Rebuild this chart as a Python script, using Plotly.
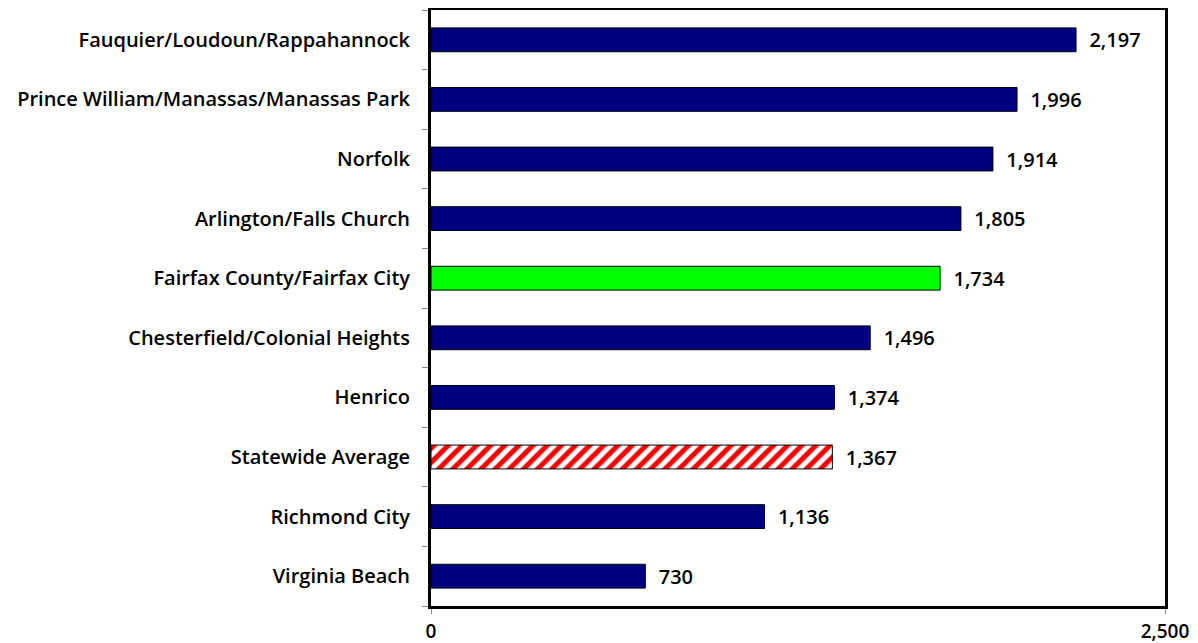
import plotly.graph_objects as go

categories = [
    "Fauquier/Loudoun/Rappahannock",
    "Prince William/Manassas/Manassas Park",
    "Norfolk",
    "Arlington/Falls Church",
    "Fairfax County/Fairfax City",
    "Chesterfield/Colonial Heights",
    "Henrico",
    "Statewide Average",
    "Richmond City",
    "Virginia Beach",
]
values = [2197, 1996, 1914, 1805, 1734, 1496, 1374, 1367, 1136, 730]
highlight = "Fairfax County/Fairfax City"
average = "Statewide Average"
x_ticks = [0, 2500]
x_tick_labels = ["0", "2,500"]

FONT = "Open Sans"
LABEL_FONT = dict(family=FONT, size=20, color="black", weight=600)
VALUE_FONT = dict(family=FONT, size=20, color="black", weight=600)
AXIS_FONT = dict(family=FONT, size=19, color="black", weight=600)

solid_y, solid_x, solid_c = [], [], []
avg_y, avg_x = [], []
for c, v in zip(categories, values):
    if c == average:
        avg_y.append(c)
        avg_x.append(v)
    else:
        solid_y.append(c)
        solid_x.append(v)
        solid_c.append("#00ff00" if c == highlight else "#000080")


def labels(xs):
    # non-breaking spaces keep a gap between bar end and value
    return ["\u00a0\u00a0" + f"{v:,}" for v in xs]


fig = go.Figure()
fig.add_trace(go.Bar(
    y=solid_y,
    x=solid_x,
    orientation="h",
    width=0.4,
    marker=dict(color=solid_c, line=dict(color="black", width=1)),
    text=labels(solid_x),
    textposition="outside",
    textfont=VALUE_FONT,
    constraintext="none",
    cliponaxis=False,
))
fig.add_trace(go.Bar(
    y=avg_y,
    x=avg_x,
    orientation="h",
    width=0.4,
    marker=dict(
        color="white",
        line=dict(color="black", width=1),
        pattern=dict(shape="/", fgcolor="#ff0000", bgcolor="white",
                     fillmode="overlay", fgopacity=1, size=10, solidity=0.5),
    ),
    text=labels(avg_x),
    textposition="outside",
    textfont=VALUE_FONT,
    constraintext="none",
    cliponaxis=False,
))

fig.update_layout(
    width=1190,
    height=635,
    barmode="overlay",
    plot_bgcolor="white",
    paper_bgcolor="white",
    margin=dict(l=423, r=33, t=2, b=37),
    showlegend=False,
    font=LABEL_FONT,
)

fig.update_yaxes(
    categoryorder="array",
    categoryarray=categories[::-1],
    showline=True,
    linecolor="black",
    linewidth=3,
    mirror=True,
    ticks="outside",
    tickson="boundaries",
    ticklen=6,
    tickcolor="#888888",
    ticklabelstandoff=14,
    tickfont=LABEL_FONT,
    showgrid=False,
    automargin=False,
)

fig.update_xaxes(
    range=[0, 2500],
    tickvals=x_ticks,
    ticktext=x_tick_labels,
    showline=True,
    linecolor="black",
    linewidth=3,
    mirror=True,
    ticks="outside",
    ticklen=5,
    tickcolor="#888888",
    ticklabelstandoff=1,
    tickfont=AXIS_FONT,
    showgrid=False,
    zeroline=False,
    automargin=False,
)

fig.write_html("out.html")
